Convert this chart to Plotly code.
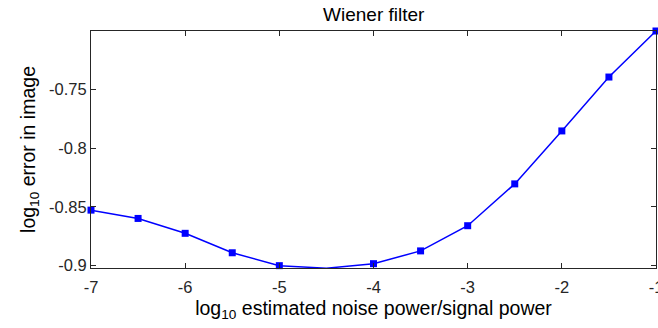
import plotly.graph_objects as go

x_vals = [-7, -6.5, -6, -5.5, -5, -4.5, -4, -3.5, -3, -2.5, -2, -1.5, -1]
y_vals = [-0.8529, -0.8600, -0.8727, -0.8893, -0.9003, -0.9025, -0.8986,
          -0.8877, -0.8662, -0.8305, -0.7853, -0.7393, -0.7000]
x_ticks = [-7, -6, -5, -4, -3, -2, -1]
x_ticktext = ["-7", "-6", "-5", "-4", "-3", "-2", "-1"]
y_ticks = [-0.9, -0.85, -0.8, -0.75]
y_ticktext = ["-0.9", "-0.85", "-0.8", "-0.75"]

font = "Liberation Sans, Arial, sans-serif"
axcol = "#262626"

fig = go.Figure()
fig.add_trace(go.Scatter(
    x=x_vals, y=y_vals, mode="lines+markers",
    line=dict(color="#0000ff", width=1.5),
    marker=dict(symbol="square", size=7, color="#0000ff"),
    cliponaxis=False, showlegend=False,
))

fig.update_layout(
    width=658, height=328,
    margin=dict(l=91, r=2, t=31, b=60, autoexpand=False),
    paper_bgcolor="white", plot_bgcolor="white",
    font=dict(family=font, size=16.5, color=axcol),
    title=dict(text="Wiener filter", x=0.568, xanchor="center", y=0.978, yanchor="top",
               automargin=False,
               font=dict(family=font, size=19, color="black")),
    xaxis=dict(
        range=[-7, -1], tickvals=x_ticks, ticktext=x_ticktext,
        showline=True, linecolor=axcol, linewidth=1, mirror="ticks",
        ticks="inside", ticklen=5, tickcolor=axcol, showgrid=False, zeroline=False,
        ticklabelstandoff=4, automargin=False, ticklabeloverflow="allow",
        title=dict(text="log<sub>10</sub> estimated noise power/signal power",
                   font=dict(family=font, size=19.5, color="black"), standoff=6),
    ),
    yaxis=dict(
        range=[-0.9023, -0.7], tickvals=y_ticks, ticktext=y_ticktext,
        showline=True, linecolor=axcol, linewidth=1, mirror="ticks",
        ticks="inside", ticklen=5, tickcolor=axcol, showgrid=False, zeroline=False,
        automargin=False,
        title=dict(text="log<sub>10</sub> error in image",
                   font=dict(family=font, size=19.5, color="black"), standoff=8),
    ),
)

fig.write_html("out.html", config={"displayModeBar": False},
               post_script="document.body.style.margin='0';document.body.style.overflow='hidden';")
